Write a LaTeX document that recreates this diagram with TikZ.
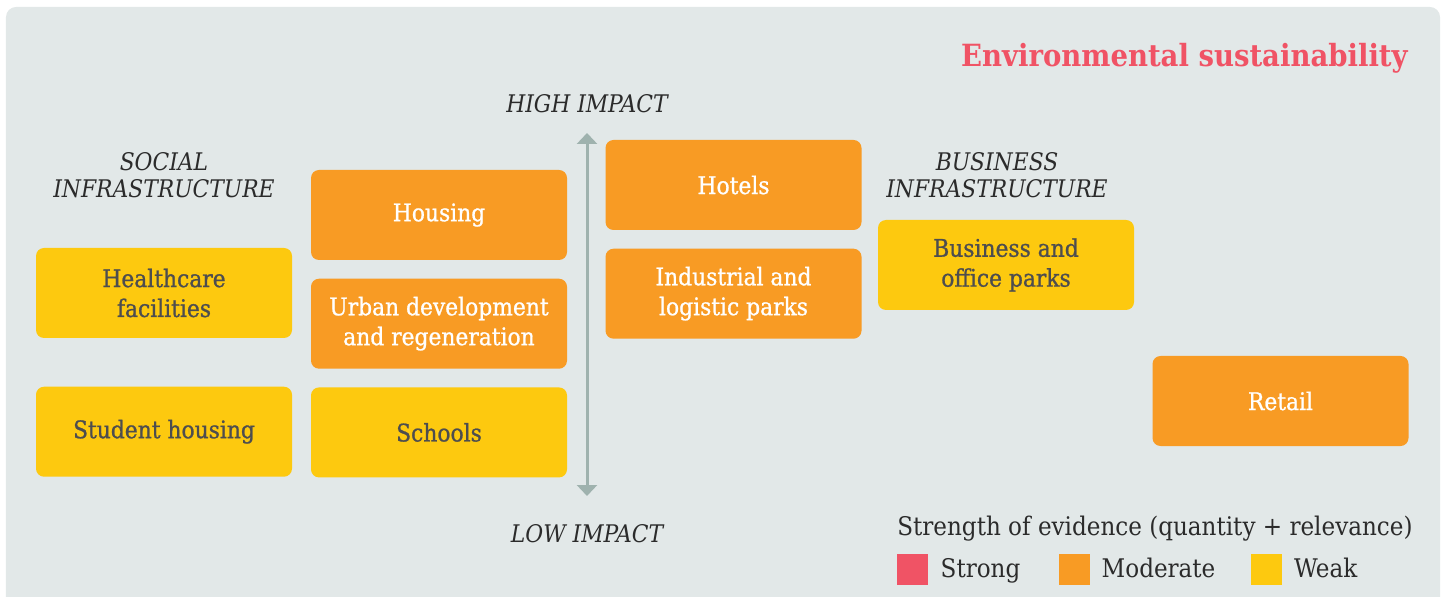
\documentclass[tikz,border=0pt]{standalone}
\usepackage{fontspec}
\setmainfont{DejaVu Serif Condensed}
\newfontfamily\boxfont[FakeBold=0.9]{DejaVu Serif Condensed}
\usepackage{xcolor}
\usepackage{tikz}
\usetikzlibrary{arrows.meta, positioning}

\definecolor{panelgray}{HTML}{E2E8E8}
\definecolor{moderateorange}{HTML}{F89B24}
\definecolor{weakyellow}{HTML}{FDC90F}
\definecolor{strongred}{HTML}{F05365}
\definecolor{arrowgray}{HTML}{9FB2AE}
\definecolor{boxtext}{HTML}{4D4D4F}
\definecolor{labeltext}{HTML}{2B2B2B}

\begin{document}
\begin{tikzpicture}[
    node distance=0.36cm,
    moderate/.style={rectangle, rounded corners=0.16cm, fill=moderateorange, text=white, minimum width=5.12cm, minimum height=1.8cm, inner sep=0pt, font=\boxfont\fontsize{13.8}{17}\selectfont, align=center},
    weak/.style={moderate, fill=weakyellow, text=boxtext},
    axislabel/.style={font=\fontsize{13.8}{15.4}\selectfont\itshape, text=labeltext, align=center},
    legendbox/.style={rectangle, minimum size=0.62cm, inner sep=0pt},
    legendtext/.style={anchor=west, font=\fontsize{14.6}{17}\selectfont, text=labeltext, inner sep=0pt, text height=1.6ex, text depth=0.3ex},
    arrow/.style={{Triangle[width=0.4cm,length=0.22cm]}-{Triangle[width=0.4cm,length=0.22cm]}, line width=0.06cm, draw=arrowgray}
]

% Canvas
\useasboundingbox (0,0) rectangle (28.96,11.92);
\clip (0,0) rectangle (28.96,11.92);
\fill[panelgray, rounded corners=0.2cm] (0.12,-0.5) rectangle (28.80,11.78);

% Title
\node[anchor=east, inner sep=0pt, font=\fontsize{17.4}{20}\selectfont\bfseries, text=strongred] (title) at (28.16,10.76) {Environmental sustainability};

% Nodes
\node[weak] (healthcare) at (3.28,6.06) {Healthcare\\facilities};
\node[weak, below=0.96cm of healthcare] (student) {Student housing};
\node[moderate] (housing) at (8.78,7.62) {Housing};
\node[moderate, below=of housing] (urban) {Urban development\\and regeneration};
\node[weak, below=of urban] (schools) {Schools};
\node[moderate] (hotels) at (14.67,8.22) {Hotels};
\node[moderate, below=of hotels] (industrial) {Industrial and\\logistic parks};
\node[weak] (business) at (20.12,6.62) {Business and\\office parks};
\node[moderate] (retail) at (25.61,3.90) {Retail};

% Labels
\node[axislabel] (social) at (3.28,8.41) {SOCIAL\\INFRASTRUCTURE};
\node[axislabel] (businesslabel) at (19.94,8.41) {BUSINESS\\INFRASTRUCTURE};
\node[axislabel] (high) at (11.74,9.84) {HIGH IMPACT};
\node[axislabel] (low) at (11.74,1.24) {LOW IMPACT};

% Arrows
\coordinate (top) at (11.74,9.26);
\coordinate (bottom) at (11.74,2.00);
\draw[arrow] (bottom) -- (top);

% Legend
\node[legendtext] (legendtitle) at (17.94,1.33) {Strength of evidence (quantity + relevance)};
\node[legendbox, fill=strongred] (strong) at (18.25,0.53) {};
\node[legendtext, right=0.24cm of strong, yshift=-0.05cm] {Strong};
\node[legendbox, fill=moderateorange] (moderatekey) at (21.49,0.53) {};
\node[legendtext, right=0.22cm of moderatekey, yshift=-0.05cm] {Moderate};
\node[legendbox, fill=weakyellow] (weakkey) at (25.32,0.53) {};
\node[legendtext, right=0.24cm of weakkey, yshift=-0.05cm] {Weak};

\end{tikzpicture}
\end{document}
